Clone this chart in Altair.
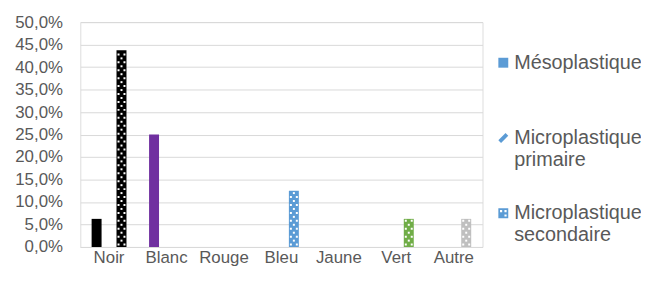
import altair as alt
import pandas as pd

categories = ["Noir", "Blanc", "Rouge", "Bleu", "Jaune", "Vert", "Autre"]
cat_colors = ["#000000", "#7030A0", "#C00000", "#5B9BD5", "#FFC000", "#70AD47", "#BFBFBF"]
series = ["Mésoplastique", "Microplastique primaire", "Microplastique secondaire"]
meso = [0.0625, 0.25, 0.0, 0.0, 0.0, 0.0, 0.0]
primaire = [0.0, 0.0, 0.0, 0.0, 0.0, 0.0, 0.0]
secondaire = [0.4375, 0.0, 0.0, 0.125, 0.0, 0.0625, 0.0625]
y_ticks = [0.0, 0.05, 0.10, 0.15, 0.20, 0.25, 0.30, 0.35, 0.40, 0.45, 0.50]

rows = []
for vals, s in zip([meso, primaire, secondaire], series):
    for c, col, v in zip(categories, cat_colors, vals):
        rows.append({"category": c, "series": s, "value": v, "color": col})
df = pd.DataFrame(rows)

PLOT_H = 227
YMAX = 0.5

# white dot pattern for "Microplastique secondaire" bars (decoration derived from the values)
step = YMAX / PLOT_H * 4.0
dots = []
for c, v in zip(categories, secondaire):
    k = 0
    y = step * 0.6
    while y < v - step * 0.4:
        dots.append({"category": c, "series": series[2], "value": y, "row": k % 2})
        k += 1
        y += step
dots_df = pd.DataFrame(dots)

x_enc = alt.X("category:N", sort=categories,
              scale=alt.Scale(domain=categories, paddingInner=0.35, paddingOuter=0.175),
              axis=alt.Axis(title=None, labelAngle=0, ticks=False, domain=True,
                            domainColor="#D9D9D9", labelPadding=3, labelFontSize=17,
                            labelColor="#595959", grid=False))
xo_enc = alt.XOffset("series:N", sort=series,
                     scale=alt.Scale(domain=series, paddingInner=0.2, paddingOuter=0.1))
y_enc = alt.Y("value:Q", scale=alt.Scale(domain=[0, YMAX], nice=False),
              axis=alt.Axis(title=None, values=y_ticks, ticks=False, domain=False,
                            labelExpr="replace(format(datum.value, '.1%'), '.', ',')",
                            labelPadding=18, labelFontSize=17, labelColor="#595959",
                            gridColor="#D9D9D9", gridWidth=1))

bars = alt.Chart(df).mark_bar().encode(
    x=x_enc, xOffset=xo_enc, y=y_enc,
    color=alt.Color("color:N", scale=None),
)

def sq(cx, cy, h=0.2):
    return f"M{cx-h},{cy-h}H{cx+h}V{cy+h}H{cx-h}Z"

dot_row_a = sq(-0.6, 0) + sq(0.6, 0)
dot_row_b = sq(0, 0)

dots_a = alt.Chart(dots_df).transform_filter("datum.row == 0").mark_point(
    shape=dot_row_a, size=100, filled=True, color="white", opacity=1, strokeWidth=0
).encode(x=x_enc, xOffset=xo_enc, y=y_enc)
dots_b = alt.Chart(dots_df).transform_filter("datum.row == 1").mark_point(
    shape=dot_row_b, size=100, filled=True, color="white", opacity=1, strokeWidth=0
).encode(x=x_enc, xOffset=xo_enc, y=y_enc)

def hole(cx, cy, h=0.22):
    return f"M{cx-h},{cy-h}V{cy+h}H{cx+h}V{cy-h}Z"

shape_sec = "M-1,-1H1V1H-1Z" + hole(-0.45, -0.45) + hole(0.45, 0.45) + hole(0.45, -0.45)
shape_prim = "M-1,0.45L0.45,-1L1,-0.45L-0.45,1Z"
shape_meso = "M-1,-1H1V1H-1Z"

legend_layer = alt.Chart(df).transform_filter("datum.value > 1").mark_point(
    filled=True, color="#5B9BD5", opacity=1, size=100
).encode(
    x=x_enc, y=y_enc,
    shape=alt.Shape("series:N",
                    scale=alt.Scale(domain=series, range=[shape_meso, shape_prim, shape_sec]),
                    legend=alt.Legend(title=None, orient="none", legendX=417, legendY=31,
                                      labelExpr="datum.label == 'Mésoplastique' ? ['Mésoplastique', ' '] : split(datum.label, ' ')",
                                      labelFontSize=20, labelColor="#595959",
                                      labelLimit=300, rowPadding=34, padding=0,
                                      symbolSize=100, symbolFillColor="#5B9BD5",
                                      symbolStrokeWidth=0, symbolOpacity=1,
                                      labelOffset=1, labelBaseline="middle")),
)

chart = alt.layer(bars, dots_a, dots_b, legend_layer).properties(
    width=406, height=PLOT_H,
    padding={"left": 73, "top": 13, "right": 160, "bottom": 22},
    autosize="none",
).configure_view(stroke=None).configure(
    font="Liberation Sans"
).configure_axis(labelFont="Liberation Sans").configure_legend(labelFont="Liberation Sans")

chart.save("out.html", embed_options={"renderer": "svg", "actions": False})
